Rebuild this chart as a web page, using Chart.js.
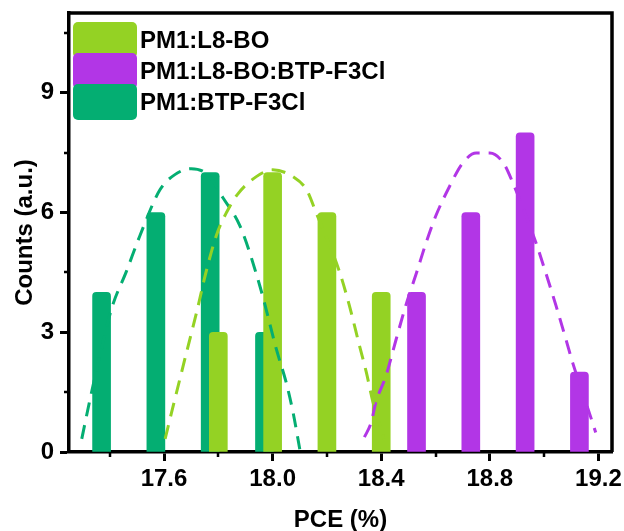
<!DOCTYPE html>
<html>
<head>
<meta charset="utf-8">
<script src="https://cdn.jsdelivr.net/npm/chart.js@4/dist/chart.umd.min.js"></script>
<style>
  html, body { margin: 0; padding: 0; background: #fff; }
  canvas { display: block; }
</style>
</head>
<body>
<canvas id="c" width="624" height="531"></canvas>
<script>
// ---- data ----
const seriesNames = ['PM1:L8-BO', 'PM1:L8-BO:BTP-F3Cl', 'PM1:BTP-F3Cl'];
const seriesColors = ['#94D224', '#B236E6', '#04AE72'];

const binsL8BO = [17.8, 18.0, 18.2, 18.4];
const countsL8BO = [3, 7, 6, 4];
const binsBlend = [18.53, 18.73, 18.93, 19.13];
const countsBlend = [4, 6, 8, 2];
const binsBTP = [17.37, 17.57, 17.77, 17.97];
const countsBTP = [4, 6, 7, 3];

// dashed distribution curves
const fitL8BOx = [17.604, 17.634, 17.683, 17.72, 17.757, 17.794, 17.83, 17.87, 17.94, 18.0, 18.075, 18.125, 18.16, 18.247, 18.283, 18.32, 18.345, 18.37, 18.388, 18.41];
const fitL8BOy = [0.33, 1.16, 2.5, 3.5, 4.57, 5.45, 6.0, 6.45, 6.9, 7.07, 6.9, 6.57, 6.0, 4.5, 3.66, 2.66, 2.0, 1.24, 0.83, 0.33];
const fitBlendx = [18.338, 18.363, 18.38, 18.417, 18.454, 18.49, 18.53, 18.565, 18.6, 18.652, 18.7, 18.75, 18.8, 18.85, 18.885, 18.97, 19.006, 19.044, 19.08, 19.105, 19.154, 19.19];
const fitBlendy = [0.37, 0.74, 1.24, 1.9, 2.8, 3.66, 4.49, 5.24, 5.9, 6.66, 7.24, 7.49, 7.49, 7.24, 6.74, 5.24, 4.49, 3.66, 2.83, 2.24, 1.24, 0.49];
const fitBTPx = [17.297, 17.33, 17.37, 17.41, 17.46, 17.51, 17.585, 17.64, 17.70, 17.76, 17.817, 17.88, 17.953, 18.014, 18.05, 18.075, 18.10];
const fitBTPy = [0.33, 1.4, 2.6, 3.66, 4.5, 5.4, 6.57, 6.95, 7.1, 6.95, 6.37, 5.66, 4.16, 2.57, 1.74, 1.0, 0.07];

const xTickValues = [17.6, 18.0, 18.4, 18.8, 19.2];
const xMinorTicks = [17.4, 17.8, 18.2, 18.6, 19.0];
const yTickValues = [0, 3, 6, 9];
const yMinorTicks = [1.5, 4.5, 7.5, 10.5];
const xRange = [17.25, 19.25];
const yRange = [0, 11];

// ---- build datasets ----
const pts = (xs, ys) => xs.map((x, i) => ({ x: x, y: ys[i] }));
const FONT = '"Liberation Sans", Arial, sans-serif';

function barSet(label, xs, ys, color, order) {
  return {
    type: 'bar', label: label, data: pts(xs, ys),
    backgroundColor: color, borderWidth: 0,
    borderRadius: { topLeft: 4, topRight: 4, bottomLeft: 0, bottomRight: 0 },
    borderSkipped: 'bottom', barThickness: 18, grouped: false, order: order, isLegend: true
  };
}
function lineSet(label, xs, ys, color) {
  return {
    type: 'line', label: label, data: pts(xs, ys),
    borderColor: color, borderWidth: 3, borderDash: [14, 9],
    pointRadius: 0, fill: false, cubicInterpolationMode: 'monotone', order: 0
  };
}

const datasets = [
  barSet(seriesNames[0], binsL8BO, countsL8BO, seriesColors[0], 1),
  barSet(seriesNames[1], binsBlend, countsBlend, seriesColors[1], 1),
  barSet(seriesNames[2], binsBTP, countsBTP, seriesColors[2], 2),
  lineSet(seriesNames[0] + ' fit', fitL8BOx, fitL8BOy, seriesColors[0]),
  lineSet(seriesNames[1] + ' fit', fitBlendx, fitBlendy, seriesColors[1]),
  lineSet(seriesNames[2] + ' fit', fitBTPx, fitBTPy, seriesColors[2])
];

// frame + minor ticks + in-plot legend
const decorPlugin = {
  id: 'decor',
  afterDraw(chart) {
    const ctx = chart.ctx, a = chart.chartArea;
    const xs = chart.scales.x, ys = chart.scales.y;
    ctx.save();
    ctx.strokeStyle = '#000';
    ctx.lineWidth = 3.5;
    ctx.beginPath();
    ctx.moveTo(a.left, a.top); ctx.lineTo(a.right, a.top); ctx.lineTo(a.right, a.bottom);
    ctx.stroke();
    ctx.lineWidth = 2.5;
    ctx.beginPath();
    xMinorTicks.forEach(v => { const p = Math.round(xs.getPixelForValue(v)); ctx.moveTo(p, a.bottom); ctx.lineTo(p, a.bottom + 5); });
    yMinorTicks.forEach(v => { const p = Math.round(ys.getPixelForValue(v)); ctx.moveTo(a.left, p); ctx.lineTo(a.left - 5, p); });
    ctx.stroke();

    // legend
    const items = chart.data.datasets.filter(d => d.isLegend);
    const boxX = a.left + 4, boxW = 64, boxH = 36, rowH = 31;
    items.forEach((d, i) => {
      const top = a.top + 9 + i * rowH;
      ctx.fillStyle = d.backgroundColor;
      ctx.beginPath();
      ctx.roundRect(boxX, top, boxW, boxH, 5);
      ctx.fill();
    });
    ctx.fillStyle = '#000';
    ctx.font = 'bold 24px ' + FONT;
    ctx.textBaseline = 'alphabetic';
    ctx.textAlign = 'left';
    items.forEach((d, i) => {
      ctx.fillText(d.label, boxX + 67, a.top + 35 + i * rowH);
    });
    ctx.restore();
  }
};

new Chart(document.getElementById('c'), {
  type: 'bar',
  data: { datasets: datasets },
  options: {
    responsive: false,
    animation: false,
    devicePixelRatio: 1,
    layout: { padding: { top: 13, right: 12, left: 0, bottom: 0 } },
    plugins: { legend: { display: false }, tooltip: { enabled: false } },
    scales: {
      x: {
        type: 'linear', min: xRange[0], max: xRange[1], offset: false,
        afterBuildTicks: s => { s.ticks = xTickValues.map(v => ({ value: v })); },
        afterFit: s => { s.height = 79; s.paddingLeft = 0; s.paddingRight = 0; },
        ticks: { color: '#000', font: { family: FONT, size: 24, weight: 'bold' }, padding: 4, maxRotation: 0,
                 callback: v => v.toFixed(1) },
        grid: { display: true, offset: false, drawOnChartArea: false, drawTicks: true, tickLength: 9, tickWidth: 3, tickColor: '#000', color: '#000' },
        border: { display: true, color: '#000', width: 3.5 },
        title: { display: true, text: 'PCE (%)', color: '#000', font: { family: FONT, size: 24, weight: 'bold' }, padding: { top: 0, bottom: -4 } }
      },
      y: {
        type: 'linear', min: yRange[0], max: yRange[1],
        afterBuildTicks: s => { s.ticks = yTickValues.map(v => ({ value: v })); },
        afterFit: s => { s.width = 69; s.paddingTop = 0; s.paddingBottom = 0; },
        ticks: { color: '#000', font: { family: FONT, size: 24, weight: 'bold' }, padding: 6 },
        grid: { display: true, drawOnChartArea: false, drawTicks: true, tickLength: 9, tickWidth: 3, tickColor: '#000', color: '#000' },
        border: { display: true, color: '#000', width: 3.5 },
        title: { display: true, text: 'Counts (a.u.)', color: '#000', font: { family: FONT, size: 24, weight: 'bold' }, padding: { top: 11, bottom: 0 } }
      }
    }
  },
  plugins: [decorPlugin]
});
</script>
</body>
</html>
